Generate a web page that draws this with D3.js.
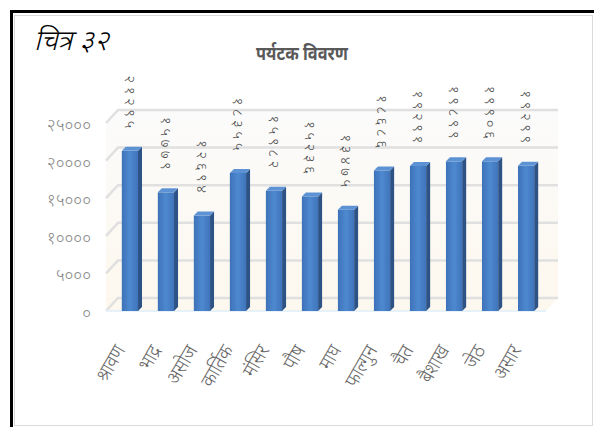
<!DOCTYPE html>
<html>
<head>
<meta charset="utf-8">
<script src="https://cdn.jsdelivr.net/npm/d3@7/dist/d3.min.js"></script>
<style>
  body { margin: 0; background: #fff; }
  text { font-family: "Noto Sans", "DejaVu Sans", sans-serif; }
</style>
</head>
<body>
<svg id="chart" width="594" height="427"></svg>
<script>
// data
const months = ['श्रावण', 'भाद्र', 'असोज', 'कार्तिक', 'मंसिर', 'पौष', 'माघ', 'फाल्गुन', 'चैत', 'बैशाख', 'जेठ', 'असार'];
const visitors = [21295, 15779, 12694, 18355, 15982, 15236, 13475, 18686, 19291, 19899, 19906, 19299];
const yTicks = [0, 5000, 10000, 15000, 20000, 25000];

const devDigits = '०१२३४५६७८९';
const toDev = n => String(n).replace(/[0-9]/g, d => devDigits[d]);

const svg = d3.select('#chart');

// depth of the fake 3d walls
const wallDx = 12, wallDy = -13;
// depth of a bar
const barDx = 4, barDy = -4;

const x = d3.scaleBand().domain(months).range([111, 545]).paddingInner(0.55).paddingOuter(0.3);
const y = d3.scaleLinear().domain([0, 25000]).range([311, 123]);

// frame
svg.append('rect').attr('x', 14.5).attr('y', 15.5).attr('width', 578).attr('height', 410)
    .attr('fill', 'none').attr('stroke', '#d9d9d9');
svg.append('line').attr('x1', 11).attr('x2', 594).attr('y1', 11.5).attr('y2', 11.5)
    .attr('stroke', '#000').attr('stroke-width', 3);
svg.append('line').attr('x1', 11.5).attr('x2', 11.5).attr('y1', 10).attr('y2', 427)
    .attr('stroke', '#000').attr('stroke-width', 3);

// titles
svg.append('text').attr('transform', 'translate(34,50) skewX(-14)')
    .attr('font-size', 28).attr('font-weight', 300).attr('fill', '#000')
    .text('चित्र ३२');
svg.append('text').attr('transform', 'translate(302,60) scale(0.86,1)').attr('text-anchor', 'middle')
    .attr('font-size', 19).attr('font-weight', 'bold').attr('fill', '#595959')
    .text('पर्यटक विवरण');

// walls
const defs = svg.append('defs');
const wallGrad = defs.append('linearGradient').attr('id', 'wall').attr('x1', 0).attr('x2', 0).attr('y1', 0).attr('y2', 1);
wallGrad.append('stop').attr('offset', 0).attr('stop-color', '#fbfbfb');
wallGrad.append('stop').attr('offset', 1).attr('stop-color', '#fdf8ee');

const xL = 106, xR = 546;
svg.append('polygon')
    .attr('points', [[xL, y(25000)], [xL + wallDx, y(25000) + wallDy], [xR + wallDx, y(25000) + wallDy],
        [xR + wallDx, y(0) + wallDy], [xR, y(0)], [xL, y(0)]].map(p => p.join(',')).join(' '))
    .attr('fill', 'url(#wall)');

const grid = svg.append('g');
yTicks.forEach(t => {
    grid.append('polyline')
        .attr('points', [[xL, y(t)], [xL + wallDx, y(t) + wallDy], [xR + wallDx, y(t) + wallDy]].map(p => p.join(',')).join(' '))
        .attr('fill', 'none').attr('stroke', '#e0e0e0').attr('stroke-width', 2.5);
});
// floor front edge
svg.append('line').attr('x1', xL).attr('x2', xR).attr('y1', y(0)).attr('y2', y(0))
    .attr('stroke', '#e6f1fa').attr('stroke-width', 2);

// y axis labels
const yAxis = d3.axisLeft(y).tickValues(yTicks).tickSize(0).tickPadding(0).tickFormat(toDev);
const yG = svg.append('g').attr('transform', `translate(91,2)`).call(yAxis);
yG.select('.domain').remove();
yG.selectAll('text').attr('font-size', 17).attr('fill', '#8a8a8a')
    .attr('font-family', '"Noto Sans", sans-serif').attr('font-weight', 300);

// bars
const frontGrad = defs.append('linearGradient').attr('id', 'front').attr('x1', 0).attr('x2', 1);
frontGrad.append('stop').attr('offset', 0).attr('stop-color', '#3d72b8');
frontGrad.append('stop').attr('offset', 0.5).attr('stop-color', '#4e89d0');
frontGrad.append('stop').attr('offset', 1).attr('stop-color', '#3f74ba');

const bars = svg.append('g').selectAll('g').data(months).join('g');
bars.each(function (m, i) {
    const g = d3.select(this);
    const x0 = x(m), w = x.bandwidth(), yt = y(visitors[i]), yb = y(0);
    g.append('rect').attr('x', x0).attr('y', yt).attr('width', w).attr('height', yb - yt)
        .attr('fill', 'url(#front)');
    g.append('polygon')
        .attr('points', [[x0 + w, yt], [x0 + w + barDx, yt + barDy], [x0 + w + barDx, yb + barDy], [x0 + w, yb]].map(p => p.join(',')).join(' '))
        .attr('fill', '#2c5286');
    g.append('polygon')
        .attr('points', [[x0, yt], [x0 + barDx, yt + barDy], [x0 + w + barDx, yt + barDy], [x0 + w, yt]].map(p => p.join(',')).join(' '))
        .attr('fill', '#5d92d4');
});

// value labels, rotated
svg.append('g').selectAll('text').data(months).join('text')
    .attr('transform', (m, i) => `translate(${x(m) + x.bandwidth() / 2 - 5},${y(visitors[i]) - 19}) rotate(90)`)
    .attr('text-anchor', 'end')
    .attr('font-size', 15).attr('font-weight', 300).attr('letter-spacing', 3.5).attr('fill', '#4d4d4d')
    .text((m, i) => toDev(visitors[i]));

// month labels
svg.append('g').selectAll('text').data(months).join('text')
    .attr('transform', m => `translate(${x(m) + x.bandwidth() / 2 - 4},${350}) rotate(-60) scale(0.9,1)`)
    .attr('text-anchor', 'end')
    .attr('font-size', 20).attr('font-weight', 300).attr('fill', '#666')
    .text(m => m);
</script>
</body>
</html>
